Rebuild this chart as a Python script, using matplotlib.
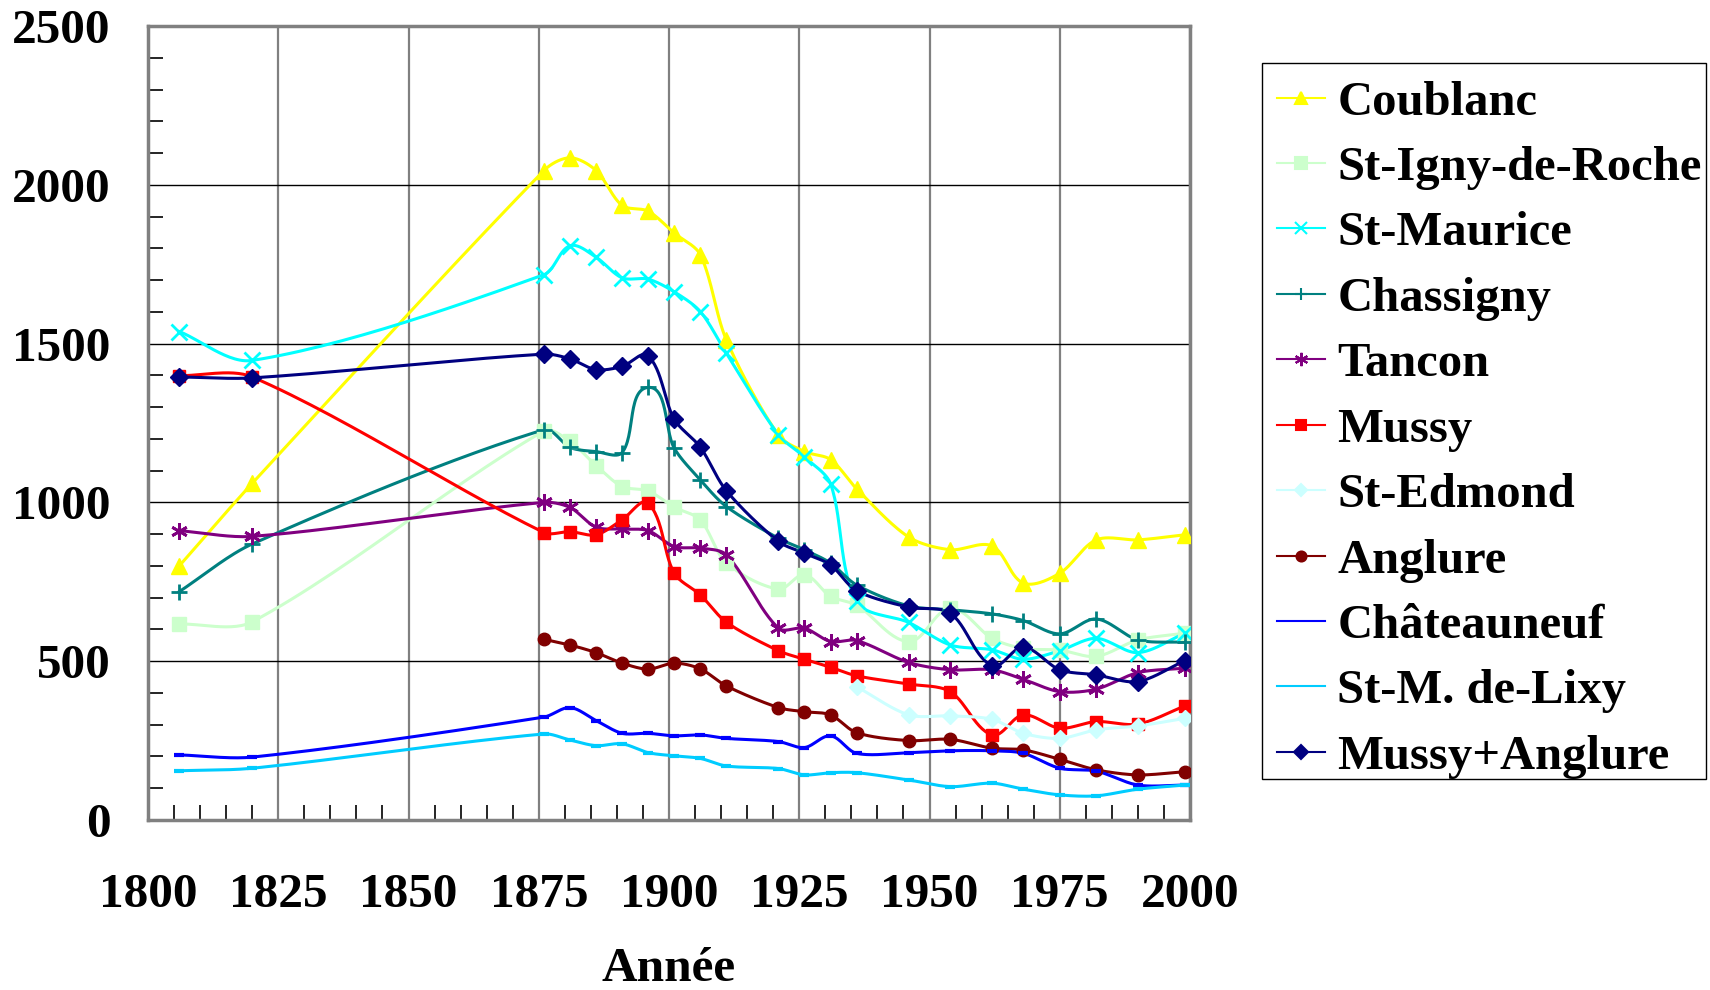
import numpy as np
import matplotlib
matplotlib.use("Agg")
import matplotlib.pyplot as plt
from matplotlib.lines import Line2D
from matplotlib.patches import Rectangle
from matplotlib.ticker import MultipleLocator

plt.rcParams['font.family'] = ['Liberation Serif', 'DejaVu Serif']
plt.rcParams['font.weight'] = 'bold'

# recensements
years = [1806, 1820, 1876, 1881, 1886, 1891, 1896, 1901, 1906, 1911, 1921,
         1926, 1931, 1936, 1946, 1954, 1962, 1968, 1975, 1982, 1990, 1999]

coublanc = [800, 1060, 2045, 2085, 2045, 1935, 1917, 1848, 1780, 1512, 1212,
            1160, 1135, 1043, 891, 851, 863, 746, 777, 882, 882, 898]
st_igny = [617, 624, 1225, 1192, 1116, 1050, 1036, 985, 945, 810, 727,
           772, 704, 677, 562, 666, 572, 540, 535, 515, 567, 588]
st_maurice = [1538, 1447, 1717, 1808, 1772, 1707, 1703, 1663, 1601, 1470, 1213,
              1143, 1059, 688, 622, 551, 536, 506, 533, 572, 527, 588]
chassigny = [719, 869, 1229, 1173, 1160, 1157, 1362, 1171, 1071, 987, 887,
             851, 809, 740, 674, 662, 649, 628, 586, 633, 567, 560]
tancon = [911, 893, 1000, 984, 922, 916, 911, 861, 856, 835, 604,
          604, 562, 565, 496, 473, 473, 443, 404, 412, 464, 478]
mussy = [1399, 1395, 905, 908, 898, 945, 998, 777, 709, 623, 533,
         506, 481, 454, 428, 404, 268, 331, 289, 310, 302, 359]
st_edmond = [None] * 13 + [420, 331, 328, 317, 273, 257, 284, 296, 320]
anglure = [None, None, 569, 551, 527, 494, 475, 494, 476, 422, 354,
           341, 331, 275, 250, 254, 226, 221, 191, 158, 142, 152]
chateauneuf = [205, 198, 324, 354, 313, 273, 273, 265, 268, 257, 247,
               228, 265, 210, 212, 218, 218, 210, 163, 154, 110, 110]
st_m_lixy = [155, 163, 271, 252, 234, 240, 212, 202, 194, 170, 162,
             142, 149, 149, 126, 105, 116, 97, 79, 76, 97, 110]
mussy_anglure = [1395, 1392, 1467, 1452, 1418, 1428, 1462, 1262, 1174, 1037, 877,
                 840, 803, 722, 670, 651, 486, 544, 473, 457, 436, 502]

series = [
    ("Coublanc", coublanc, "#ffff00", "^", 11),
    ("St-Igny-de-Roche", st_igny, "#ccffcc", "s", 10),
    ("St-Maurice", st_maurice, "#00ffff", "x", 11),
    ("Chassigny", chassigny, "#008080", "+", 11),
    ("Tancon", tancon, "#800080", (6, 2, 0), 12),
    ("Mussy", mussy, "#ff0000", "s", 9),
    ("St-Edmond", st_edmond, "#ccffff", "D", 8),
    ("Anglure", anglure, "#800000", "o", 9),
    ("Châteauneuf", chateauneuf, "#0000ff", None, 0),
    ("St-M. de-Lixy", st_m_lixy, "#00ccff", None, 0),
    ("Mussy+Anglure", mussy_anglure, "#000080", "D", 9),
]

# axes size in pixels, used to smooth in screen space
AX_W, AX_H = 1042.0, 794.0
X0, X1, Y0, Y1 = 1800, 2000, 0, 2500
K = 0.3


def smooth(xs, ys, n=30):
    px = (np.asarray(xs, float) - X0) / (X1 - X0) * AX_W
    py = (np.asarray(ys, float) - Y0) / (Y1 - Y0) * AX_H
    P = np.column_stack([px, py])
    m = len(P)
    # tangent direction at each point
    T = np.zeros_like(P)
    for i in range(m):
        d = P[min(i + 1, m - 1)] - P[max(i - 1, 0)]
        T[i] = d / np.hypot(*d)
    out = []
    t = np.linspace(0, 1, n)[:, None]
    for i in range(m - 1):
        p1, p2 = P[i], P[i + 1]
        L = np.hypot(*(p2 - p1))
        c1 = p1 + T[i] * L * K
        c2 = p2 - T[i + 1] * L * K
        seg = ((1 - t) ** 3) * p1 + 3 * ((1 - t) ** 2) * t * c1 \
            + 3 * (1 - t) * t ** 2 * c2 + t ** 3 * p2
        out.append(seg if i == 0 else seg[1:])
    S = np.vstack(out)
    return S[:, 0] / AX_W * (X1 - X0) + X0, S[:, 1] / AX_H * (Y1 - Y0) + Y0


fig = plt.figure(figsize=(17.1, 9.9), dpi=100)
ax = fig.add_axes([148 / 1710, 1 - 820 / 990, 1042 / 1710, 794 / 990])

handles = []
for name, vals, col, mk, ms in series:
    xs = [y for y, v in zip(years, vals) if v is not None]
    ys = [v for v in vals if v is not None]
    sx, sy = smooth(xs, ys)
    ax.plot(sx, sy, color=col, lw=2.2, zorder=3)
    if mk is not None:
        mew = 2.0 if mk in ("x", "+", (6, 2, 0)) else 1.0
        ax.plot(xs, ys, ls='none', marker=mk, color=col, ms=ms, mew=mew,
                zorder=4)
    else:
        ax.plot(xs, ys, ls='none', marker='_', color=col, ms=7, mew=3, zorder=4)
    handles.append(Line2D([], [], color=col, lw=1.5,
                          marker=mk if mk is not None else None,
                          ms=ms * 0.8, mew=1.5))

ax.set_xlim(X0, X1)
ax.set_ylim(Y0, Y1)
ax.xaxis.set_major_locator(MultipleLocator(25))
ax.xaxis.set_minor_locator(MultipleLocator(5))
ax.yaxis.set_major_locator(MultipleLocator(500))
ax.yaxis.set_minor_locator(MultipleLocator(100))

ax.grid(True, axis='x', which='major', color='#808080', lw=1.6, zorder=1)
ax.grid(True, axis='y', which='major', color='black', lw=1.0, zorder=1)
for sp in ax.spines.values():
    sp.set_color('#808080')
    sp.set_linewidth(2.5)

ax.tick_params(axis='both', which='major', length=0, labelsize=35.5, width=1.5)
ax.tick_params(axis='x', which='major', pad=38)
ax.tick_params(axis='y', which='major', pad=27)
ax.tick_params(axis='both', which='minor', direction='in', length=11,
               width=1.2, color='black')
for lab in ax.get_xticklabels() + ax.get_yticklabels():
    lab.set_fontweight('bold')

# axis title, placed by its baseline
fig.text(0.5 * (148 + 1190) / 1710, 1 - 981 / 990, "Année", fontsize=35.5,
         fontweight='bold', ha='center', va='baseline')

leg = fig.legend(handles, [s[0] for s in series], loc='upper left',
                 bbox_to_anchor=(1262 / 1710, 1 - 66 / 990),
                 prop={'size': 35, 'weight': 'bold'}, frameon=False,
                 handlelength=1.0, handletextpad=0.25, labelspacing=0.44,
                 borderpad=0.3, borderaxespad=0)

# legend box
fig.patches.append(Rectangle((1262 / 1710, 1 - 779 / 990), 444 / 1710,
                             716 / 990, transform=fig.transFigure,
                             fill=False, edgecolor='black', lw=1.0))

fig.savefig("out.png", dpi=100)
